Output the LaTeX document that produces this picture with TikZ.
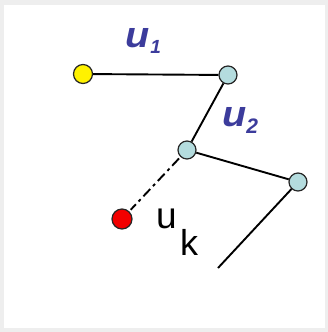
\documentclass[tikz,border=0pt]{standalone}
\usepackage{fontspec}
\setmainfont{Liberation Sans}
\definecolor{lblue}{HTML}{3C3C9C}
\definecolor{cyanfill}{HTML}{B4DCDE}
\definecolor{bordergray}{HTML}{EEEEEE}
\tikzset{
  joint/.style={circle, draw=black!85, line width=1.2pt, minimum size=18pt, inner sep=0pt, fill=cyanfill},
  link/.style={line width=1.9pt, black},
  lab/.style={inner sep=0pt, anchor=base west, text=lblue},
}
\begin{document}
\begin{tikzpicture}[x=1pt,y=-1pt]
\fill[bordergray] (0,0) rectangle (328,332);
\fill[white] (4,5) rectangle (325,328);
\useasboundingbox (0,0) rectangle (328,332);
\node[joint, fill=yellow, minimum size=19pt] (y) at (83,74) {};
\node[joint] (a) at (228,75) {};
\node[joint] (b) at (187,150) {};
\node[joint] (c) at (298,182) {};
\node[joint, fill=red!95!black, minimum size=20pt] (r) at (122,219) {};
\coordinate (e) at (218,268);
\draw[link] (y) -- (a);
\draw[link] (a) -- (b);
\draw[link] (b) -- (c);
\draw[link] (c) -- (e);
\draw[link, shorten <=2pt, shorten >=2pt, dash pattern=on 10pt off 4pt on 3pt off 4pt] (b) -- (r);
\node[lab] (l1) at (125,47) {\fontsize{36}{38}\selectfont\bfseries\itshape \scalebox{1.1}[1]{u}\hspace{1pt}\raisebox{-6pt}{\fontsize{19}{21}\selectfont 1}};
\node[lab] (l2) at (222,126) {\fontsize{36}{38}\selectfont\bfseries\itshape \scalebox{1.1}[1]{u}\raisebox{-7pt}{\fontsize{21}{23}\selectfont 2}};
\node[inner sep=0pt, anchor=base west] (lu) at (156,228) {\fontsize{37}{39}\selectfont u};
\node[inner sep=0pt, anchor=base west] (lk) at (180,255) {\fontsize{36}{38}\selectfont k};
\end{tikzpicture}
\end{document}
